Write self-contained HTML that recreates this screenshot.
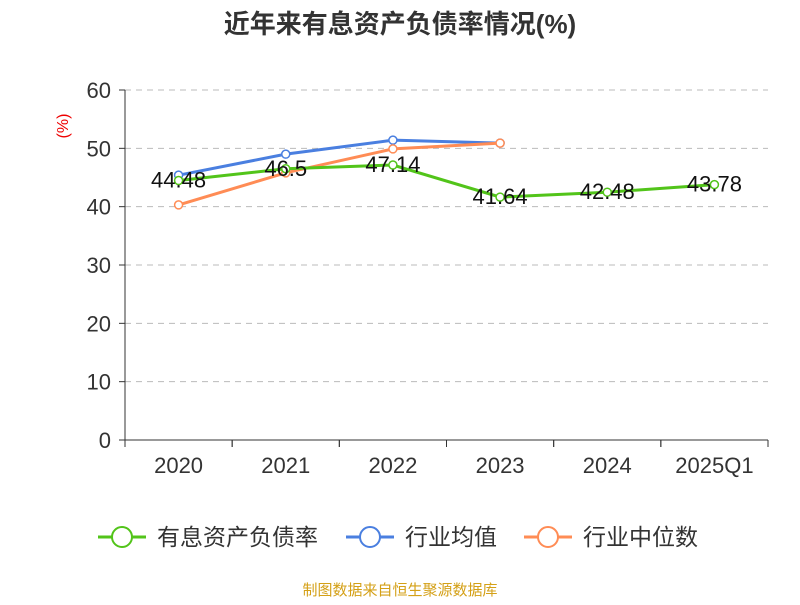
<!DOCTYPE html>
<html><head><meta charset="utf-8"><style>
body{margin:0;background:#fff;font-family:"Liberation Sans","Noto Sans CJK SC",sans-serif}
</style></head><body>
<svg width="800" height="600" xmlns="http://www.w3.org/2000/svg" font-family="Liberation Sans, Noto Sans CJK SC, sans-serif">
<text x="400" y="33" text-anchor="middle" font-size="26" font-weight="bold" fill="#333">近年来有息资产负债率情况(%)</text>
<text transform="translate(68,126) rotate(-90)" text-anchor="middle" font-size="16" fill="#e00">(%)</text>
<g id="grid"></g><g id="axes"></g><g id="series"></g>
<g>
<g><line x1="98" y1="537" x2="146" y2="537" stroke="#52c41a" stroke-width="3"/><circle cx="122" cy="537" r="10" fill="#fff" stroke="#52c41a" stroke-width="2"/><text x="157" y="545" font-size="23" fill="#333">有息资产负债率</text></g>
<g><line x1="346" y1="537" x2="394" y2="537" stroke="#4a7fe0" stroke-width="3"/><circle cx="370" cy="537" r="10" fill="#fff" stroke="#4a7fe0" stroke-width="2"/><text x="405" y="545" font-size="23" fill="#333">行业均值</text></g>
<g><line x1="524" y1="537" x2="572" y2="537" stroke="#ff8c55" stroke-width="3"/><circle cx="548" cy="537" r="10" fill="#fff" stroke="#ff8c55" stroke-width="2"/><text x="583" y="545" font-size="23" fill="#333">行业中位数</text></g>
</g>
<text x="400" y="595" text-anchor="middle" font-size="15" fill="#d4a017">制图数据来自恒生聚源数据库</text>
</svg>
<script>
const categories=["2020","2021","2022","2023","2024","2025Q1"];
const debtRatio=[44.48,46.5,47.14,41.64,42.48,43.78];
const industryAvg=[45.4,49.0,51.4,50.9,null,null];
const industryMedian=[40.3,45.8,49.9,50.9,null,null];
const yTicks=[0,10,20,30,40,50,60];
const NS="http://www.w3.org/2000/svg";
const x0=125,x1=768,yb=440,yt=90,ymax=60;
const bw=(x1-x0)/categories.length;
const X=i=>x0+bw*(i+0.5);
const Y=v=>yb-(v/ymax)*(yb-yt);
function mk(p,t,a){const e=document.createElementNS(NS,t);for(const k in a)e.setAttribute(k,a[k]);p.appendChild(e);return e;}
const grid=document.getElementById('grid'),axes=document.getElementById('axes'),ser=document.getElementById('series');
yTicks.forEach(v=>{
 if(v>0){const l=mk(grid,'line',{x1:x0,x2:x1,y1:Y(v),y2:Y(v),stroke:'#bbb','stroke-dasharray':'6,5'});
 }
 const tk=mk(axes,'line',{x1:x0-6,x2:x0,y1:Y(v),y2:Y(v),stroke:'#333'});
 
 const t=mk(axes,'text',{x:x0-14,y:Y(v)+8,'text-anchor':'end','font-size':'22',fill:'#333'});t.textContent=v;
 
});
let a=mk(axes,'line',{x1:x0,x2:x0,y1:yt,y2:yb,stroke:'#333'});
a=mk(axes,'line',{x1:x0,x2:x1,y1:yb,y2:yb,stroke:'#333'});
categories.forEach((c,i)=>{
 for(const xx of [x0+bw*i,x0+bw*(i+1)]){const tk=mk(axes,'line',{x1:xx,x2:xx,y1:yb,y2:yb+7,stroke:'#333'});
 }
 const t=mk(axes,'text',{x:X(i),y:yb+33,'text-anchor':'middle','font-size':'22',fill:'#333'});t.textContent=c;
 
});
function line(data,color,name){
 const pts=data.map((v,i)=>v==null?null:[X(i),Y(v)]).filter(p=>p);
 const pl=mk(ser,'polyline',{points:pts.map(p=>p.join(',')).join(' '),fill:'none',stroke:color,'stroke-width':3});
 
 data.forEach((v,i)=>{if(v==null)return;
  const c=mk(ser,'circle',{cx:X(i),cy:Y(v),r:4,fill:'#fff',stroke:color,'stroke-width':1.5});
  
 });
}
line(industryAvg,'#4a7fe0','industry-avg');
line(industryMedian,'#ff8c55','industry-median');
line(debtRatio,'#52c41a','debt-ratio');
debtRatio.forEach((v,i)=>{
 const t=mk(ser,'text',{x:X(i),y:Y(v)+7,'text-anchor':'middle','font-size':'22',fill:'#111'});t.textContent=v;
 
});
</script>
</body></html>
